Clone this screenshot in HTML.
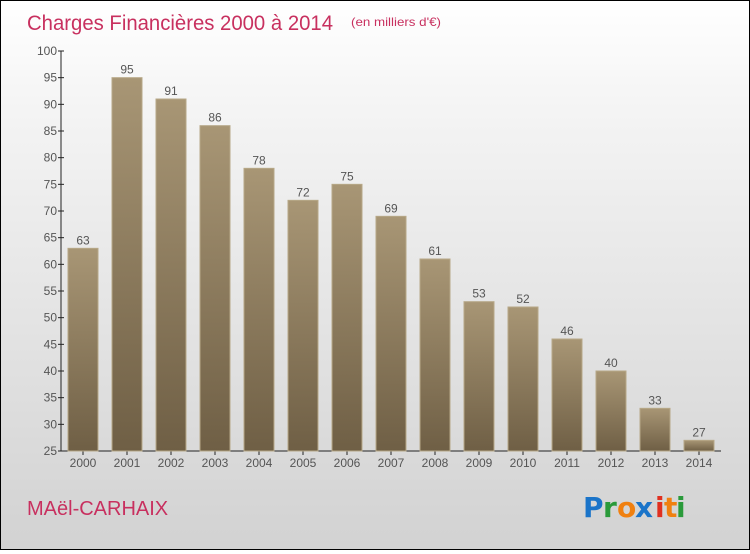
<!DOCTYPE html>
<html><head><meta charset="utf-8"><style>
body{margin:0;width:750px;height:550px;overflow:hidden;font-family:"Liberation Sans",sans-serif}
#c{position:absolute;left:0;top:0;width:748px;height:548px;border:1px solid #000;background:linear-gradient(#fff,#f4f4f4 20%,#d2d2d2)}
</style></head><body>
<div id="c">
<svg width="748" height="548">
<defs><linearGradient id="bg" x1="0" y1="0" x2="0" y2="1"><stop offset="0" stop-color="#a89675"/><stop offset="1" stop-color="#6f5f45"/></linearGradient></defs>
<text x="26" y="29" font-size="21" textLength="306" lengthAdjust="spacingAndGlyphs" fill="#c8305f">Charges Financières 2000 à 2014</text>
<text x="350" y="25" font-size="12" textLength="90" lengthAdjust="spacingAndGlyphs" fill="#c8305f">(en milliers d'€)</text>
<g id="axes"></g><g id="bars"></g>
<text x="26" y="514" font-size="20" fill="#c8305f">MAël-CARHAIX</text>
<g font-size="28" font-weight="bold" font-family="'DejaVu Sans',sans-serif">
<text x="582" y="516" fill="#1a74c9">P</text><text x="602" y="516" fill="#2a9a3a">r</text><text x="616" y="516" fill="#f08010">o</text><text x="634" y="516" fill="#1a74c9">x</text><text x="654" y="516" fill="#e03020">i</text><text x="663" y="516" fill="#f08010">t</text><text x="675" y="516" fill="#2a9a3a">i</text></g>
</svg></div>
<script>
const years=["2000","2001","2002","2003","2004","2005","2006","2007","2008","2009","2010","2011","2012","2013","2014"];
const values=[63,95,91,86,78,72,75,69,61,53,52,46,40,33,27];
const yTicks=[25,30,35,40,45,50,55,60,65,70,75,80,85,90,95,100];
const NS="http://www.w3.org/2000/svg";
const X0=60,BAND=44,Y0=450,YMIN=25,YMAX=100,H=400;
function y(v){return Y0-(v-YMIN)/(YMAX-YMIN)*H;}
function x(i){return X0+i*BAND;}
function mk(t,a,p){const e=document.createElementNS(NS,t);for(const k in a)e.setAttribute(k,a[k]);p.appendChild(e);return e;}
const ax=document.getElementById('axes'),bs=document.getElementById('bars');
const yl=mk('line',{x1:X0,y1:y(YMAX),x2:X0,y2:Y0,stroke:'#222'},ax);


const xl=mk('line',{x1:X0,y1:Y0,x2:X0+years.length*BAND,y2:Y0,stroke:'#222'},ax);


yTicks.forEach(v=>{
 mk('line',{x1:X0-3,x2:X0+3,y1:y(v),y2:y(v),stroke:'#222'},ax);
 const t=mk('text',{x:X0-4,y:y(v)+4,'font-size':12,fill:'#555','text-anchor':'end'},ax);t.textContent=v;
 
 
});
years.forEach((yr,i)=>{
 const cx=x(i)+BAND/2;
 mk('line',{x1:cx,x2:cx,y1:Y0,y2:Y0+4,stroke:'#222'},ax);
 const t=mk('text',{x:cx,y:Y0+16,'font-size':12,fill:'#555','text-anchor':'middle'},ax);t.textContent=yr;
 
 
 const r=mk('rect',{x:x(i)+7,y:y(values[i]),width:30,height:Y0-y(values[i]),fill:'url(#bg)',stroke:'#b7a888','stroke-width':1},bs);
 
 
 const l=mk('text',{x:cx,y:y(values[i])-4,'font-size':12,fill:'#555','text-anchor':'middle'},bs);l.textContent=values[i];
 
 
});
</script>
</body></html>
